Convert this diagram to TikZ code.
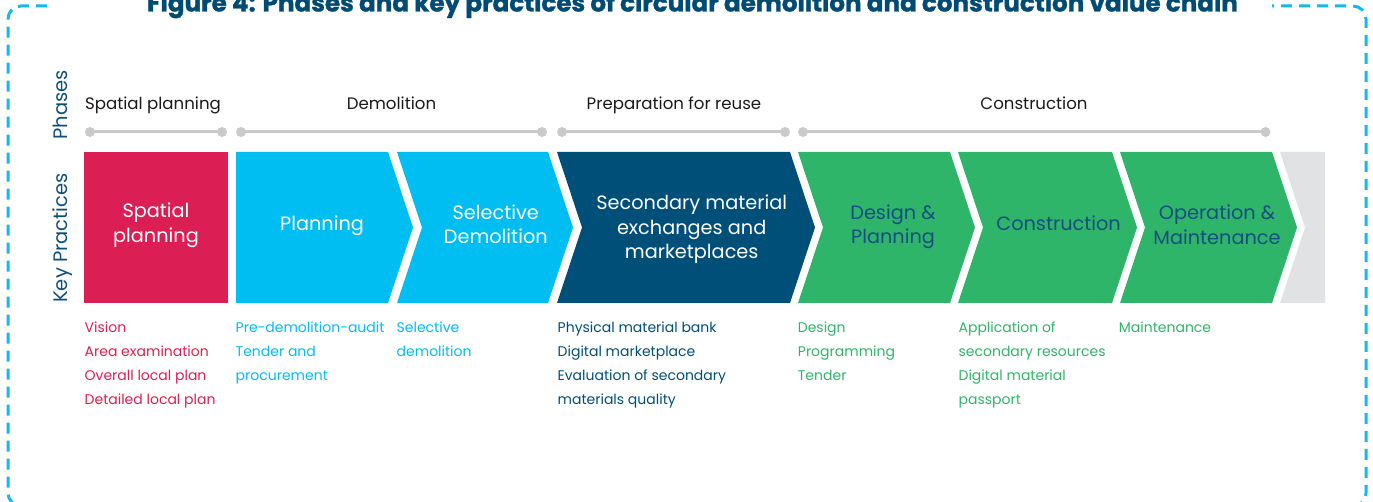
\documentclass[tikz,border=0pt]{standalone}
\usepackage{fontspec}
\setmainfont{Poppins}
\definecolor{cred}{HTML}{DB1F55}
\definecolor{ccyan}{HTML}{00BDF2}
\definecolor{cnavy}{HTML}{004F79}
\definecolor{cgreen}{HTML}{2FB56A}
\definecolor{cgray}{HTML}{E1E2E3}
\definecolor{cgtext}{HTML}{134E80}
\definecolor{ctitle}{HTML}{004B74}
\definecolor{cborder}{HTML}{12B9EE}
\definecolor{ctl}{HTML}{C9CACC}
\definecolor{cvlab}{HTML}{0D4F7B}
\definecolor{cphase}{HTML}{1A1A1A}
\newcommand\chevfill[4]{% color, left x, right x, notch depth (0 = straight)
  \fill[#1] (#2,152) -- (#3,152) -- (#3+25,227.5) -- (#3,303) -- (#2,303) -- (#2+#4,227.5) -- cycle;}
\begin{document}
\begin{tikzpicture}[x=1pt,y=-1pt,
  border/.style={draw=cborder, line width=3pt, dash pattern=on 11pt off 7pt, rounded corners=13pt},
  tline/.style={draw=ctl, line width=3pt},
  tdot/.style={fill=ctl},
  ptext/.style={font=\fontsize{16.6}{19}\selectfont, text=cphase, inner sep=0pt, anchor=base},
  vlab/.style={font=\fontsize{19.5}{22}\selectfont, text=cvlab, inner sep=0pt, rotate=90, anchor=base},
  ctext/.style={font=\fontsize{19.3}{24.5}\selectfont, align=center, inner sep=0pt},
  ltext/.style={font=\fontsize{14}{24}\selectfont, align=left, inner sep=0pt, anchor=north west},
  title/.style={font=\fontsize{24.6}{28}\selectfont\bfseries\addfontfeatures{FakeBold=1.2}, text=ctitle, inner sep=0pt, anchor=base}]
\useasboundingbox (0,0) rectangle (1373,502);
\clip (0,0) rectangle (1373,502);
% frame
\draw[border] (47,6) -- (8,6) -- (8,506) -- (1366,506) -- (1366,6) -- (1272,6);
% title
\node[title] (title) at (692.5,11.5) {Figure 4: Phases and key practices of circular demolition and construction value chain};
% side labels
\node[vlab] (phases) at (67,105) {Phases};
\node[vlab] (keyp) at (67,238) {Key Practices};
% phase labels
\node[ptext] (ph1) at (153,110) {Spatial planning};
\node[ptext] (ph2) at (391.5,110) {Demolition};
\node[ptext] (ph3) at (674,110) {Preparation for reuse};
\node[ptext] (ph4) at (1034,110) {Construction};
% timelines
\coordinate (t1a) at (90,132); \coordinate (t1b) at (222,132);
\coordinate (t2a) at (241,132); \coordinate (t2b) at (542,132);
\coordinate (t3a) at (562,132); \coordinate (t3b) at (785,132);
\coordinate (t4a) at (803,132); \coordinate (t4b) at (1265.5,132);
\foreach \a/\b in {t1a/t1b,t2a/t2b,t3a/t3b,t4a/t4b}{
  \draw[tline] (\a) -- (\b);
  \fill[tdot] (\a) circle (5);
  \fill[tdot] (\b) circle (5);
}
% key practice shapes
\fill[cred] (84,152) rectangle (228,303);
\chevfill{ccyan}{236}{388}{0}
\chevfill{ccyan}{397}{548}{25}
\chevfill{cnavy}{557}{790}{25}
\chevfill{cgreen}{798}{950}{25}
\chevfill{cgreen}{958}{1112}{25}
\chevfill{cgreen}{1120}{1272}{25}
\fill[cgray] (1280,152) -- (1325,152) -- (1325,303) -- (1280,303) -- (1305,227.5) -- cycle;
% shape texts
\node[ctext, text=white] (k1) at (156,225.5) {Spatial\\planning};
\node[ctext, text=white, anchor=base] (k2) at (322,230.5) {Planning};
\node[ctext, text=white] (k3) at (495.8,224.1) {Selective\\Demolition};
\node[ctext, text=white] (k4) at (691.7,229.3) {Secondary material\\exchanges and\\marketplaces};
\node[ctext, text=cgtext] (k5) at (893,226.8) {Design \&\\Planning};
\node[ctext, text=cgtext, anchor=base] (k6) at (1058.6,231) {Construction};
\node[ctext, text=cgtext] (k7) at (1217,224.5) {Operation \&\\Maintenance};
% lists
\node[ltext, text=cred] (l1) at (84.5,321.4) {Vision\\Area examination\\Overall local plan\\Detailed local plan};
\node[ltext, text=ccyan] (l2) at (235.5,321.4) {Pre-demolition-audit\\Tender and\\procurement};
\node[ltext, text=ccyan] (l3) at (396.5,321.4) {Selective\\demolition};
\node[ltext, text=cnavy] (l4) at (557.5,321.4) {Physical material bank\\Digital marketplace\\Evaluation of secondary\\materials quality};
\node[ltext, text=cgreen] (l5) at (797.7,321.4) {Design\\Programming\\Tender};
\node[ltext, text=cgreen] (l6) at (958.4,321.4) {Application of\\secondary resources\\Digital material\\passport};
\node[ltext, text=cgreen] (l7) at (1118.7,321.4) {Maintenance};
\end{tikzpicture}
\end{document}
